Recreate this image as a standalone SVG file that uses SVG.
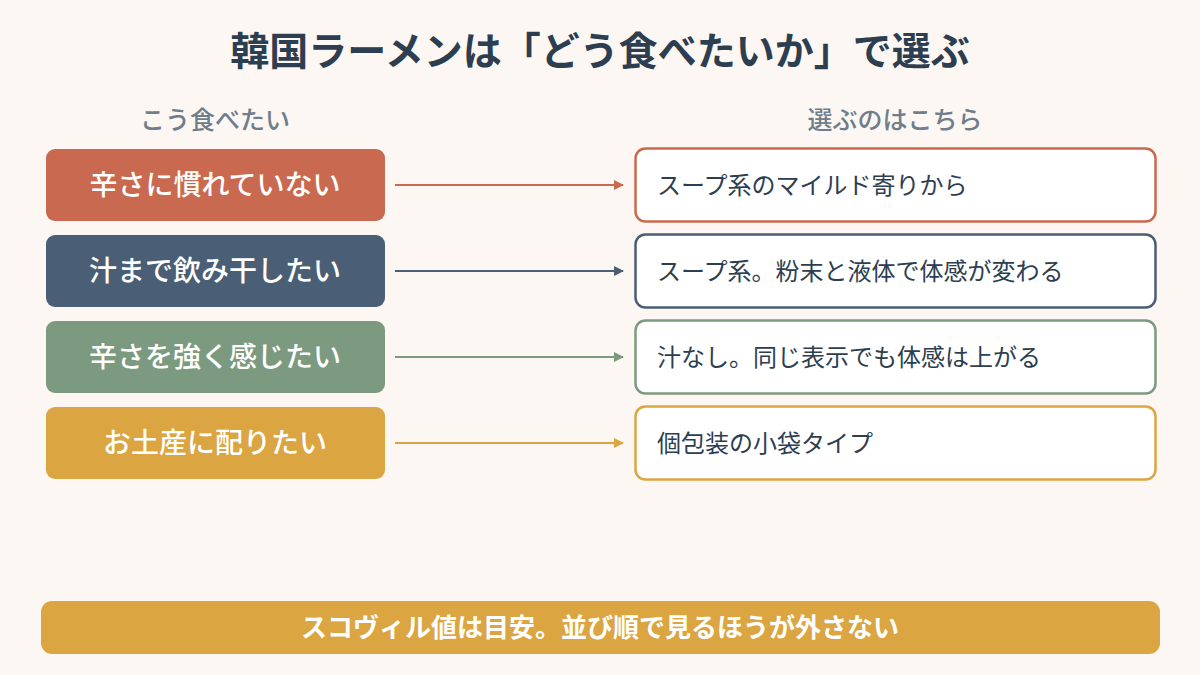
<svg xmlns="http://www.w3.org/2000/svg" width="1200" height="675" viewBox="0 0 1200 675">
<defs>
<style>
.t{font-family:"Noto Sans CJK JP","Noto Sans",sans-serif}
.title{font-size:39px;font-weight:700;fill:#2C3E50}
.hdr{font-size:25px;font-weight:500;fill:#6F7D8C}
.lt{font-size:28px;font-weight:500;fill:#FFFFFF}
.rt{font-size:24px;font-weight:400;fill:#2C3E50}
.rb{fill:#FFFFFF;stroke-width:2.5}
.ft{font-size:26px;font-weight:700;fill:#FFFFFF}
</style>
<marker id="m1" viewBox="0 0 10 10" refX="9" refY="5" markerWidth="10" markerHeight="10" markerUnits="userSpaceOnUse" orient="auto"><path d="M0,0L10,5L0,10z" fill="#C96A50"/></marker>
<marker id="m2" viewBox="0 0 10 10" refX="9" refY="5" markerWidth="10" markerHeight="10" markerUnits="userSpaceOnUse" orient="auto"><path d="M0,0L10,5L0,10z" fill="#4A5F75"/></marker>
<marker id="m3" viewBox="0 0 10 10" refX="9" refY="5" markerWidth="10" markerHeight="10" markerUnits="userSpaceOnUse" orient="auto"><path d="M0,0L10,5L0,10z" fill="#7B9A80"/></marker>
<marker id="m4" viewBox="0 0 10 10" refX="9" refY="5" markerWidth="10" markerHeight="10" markerUnits="userSpaceOnUse" orient="auto"><path d="M0,0L10,5L0,10z" fill="#DBA542"/></marker>
</defs>
<rect width="1200" height="675" fill="#FCF7F3"/>
<text class="t title" x="600" y="65" text-anchor="middle">韓国ラーメンは「どう食べたいか」で選ぶ</text>
<text class="t hdr" x="215" y="129" text-anchor="middle">こう食べたい</text>
<text class="t hdr" x="895" y="129" text-anchor="middle">選ぶのはこちら</text>

<g id="connectors" stroke-width="2">
<line x1="395" y1="185" x2="623" y2="185" stroke="#C96A50" marker-end="url(#m1)"/>
<line x1="395" y1="271" x2="623" y2="271" stroke="#4A5F75" marker-end="url(#m2)"/>
<line x1="395" y1="357" x2="623" y2="357" stroke="#7B9A80" marker-end="url(#m3)"/>
<line x1="395" y1="443" x2="623" y2="443" stroke="#DBA542" marker-end="url(#m4)"/>
</g>

<g id="l1"><rect x="46" y="149" width="339" height="72" rx="9" fill="#C96A50"/><text class="t lt" x="215" y="195" text-anchor="middle">辛さに慣れていない</text></g>
<g id="l2"><rect x="46" y="235" width="339" height="72" rx="9" fill="#4A5F75"/><text class="t lt" x="215" y="281" text-anchor="middle">汁まで飲み干したい</text></g>
<g id="l3"><rect x="46" y="321" width="339" height="72" rx="9" fill="#7B9A80"/><text class="t lt" x="215" y="367" text-anchor="middle">辛さを強く感じたい</text></g>
<g id="l4"><rect x="46" y="407" width="339" height="72" rx="9" fill="#DBA542"/><text class="t lt" x="215" y="453" text-anchor="middle">お土産に配りたい</text></g>

<g id="r1"><rect class="rb" x="635.5" y="148.5" width="520" height="73" rx="10" stroke="#C96A50"/><text class="t rt" x="657" y="194">スープ系のマイルド寄りから</text></g>
<g id="r2"><rect class="rb" x="635.5" y="234.5" width="520" height="73" rx="10" stroke="#4A5F75"/><text class="t rt" x="657" y="280">スープ系。粉末と液体で体感が変わる</text></g>
<g id="r3"><rect class="rb" x="635.5" y="320.5" width="520" height="73" rx="10" stroke="#7B9A80"/><text class="t rt" x="657" y="366">汁なし。同じ表示でも体感は上がる</text></g>
<g id="r4"><rect class="rb" x="635.5" y="406.5" width="520" height="73" rx="10" stroke="#DBA542"/><text class="t rt" x="657" y="452">個包装の小袋タイプ</text></g>

<g id="footer"><rect x="41" y="601" width="1119" height="53" rx="11" fill="#DBA542"/><text class="t ft" x="600" y="637" text-anchor="middle">スコヴィル値は目安。並び順で見るほうが外さない</text></g>
</svg>
